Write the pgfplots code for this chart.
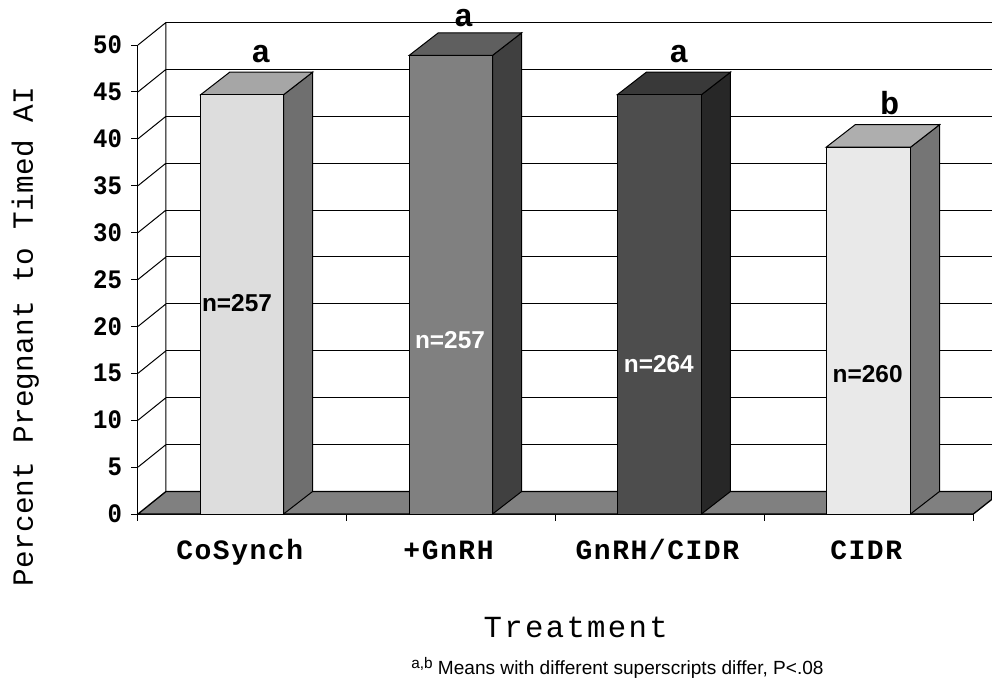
\documentclass[border=0pt]{standalone}
\usepackage{pgfplots}
\pgfplotsset{compat=1.18}
\usepackage{fontspec}
\setmainfont{Liberation Sans}
\newfontfamily\cour{Liberation Mono}
\newfontfamily\courcat[LetterSpace=5.5]{Liberation Mono}
\newfontfamily\courtick[FakeStretch=0.9]{Liberation Mono}
\newfontfamily\courx[LetterSpace=7.5]{Liberation Mono}
\newfontfamily\coury[LetterSpace=1]{Liberation Mono}
\definecolor{fa}{HTML}{DDDDDD}\definecolor{ta}{HTML}{A6A6A6}\definecolor{sa}{HTML}{6F6F6F}
\definecolor{fb}{HTML}{808080}\definecolor{tb}{HTML}{5F5F5F}\definecolor{sb}{HTML}{404040}
\definecolor{fc}{HTML}{4D4D4D}\definecolor{tc}{HTML}{393939}\definecolor{sc}{HTML}{272727}
\definecolor{fd}{HTML}{E9E9E9}\definecolor{td}{HTML}{AEAEAE}\definecolor{sd}{HTML}{757575}
\begin{document}
\begin{tikzpicture}
\path[use as bounding box] (-103.5pt,-129pt) rectangle (640.5pt,385.5pt);
\begin{axis}[
  scale only axis, width=626.5pt, height=351.75pt,
  xmin=0, xmax=4, ymin=0, ymax=50, clip=false,
  axis x line*=bottom, axis y line*=left,
  axis line style={-, line width=.75pt, black},
  tick style={line width=.75pt, black},
  tick align=outside, major tick length=5pt,
  xtick={0,1,2,3,4}, xticklabels={},
  extra x ticks={0.487,1.487,2.487,3.487},
  extra x tick labels={CoSynch,+GnRH,GnRH/CIDR,CIDR},
  extra x tick style={major tick length=0pt, tick style={draw=none}},
  xticklabel style={font=\courcat\bfseries\fontsize{21}{21}\selectfont, anchor=base, yshift=-34pt},
  ytick={0,5,...,50},
  yticklabel style={/pgf/number format/assume math mode=true, font=\courtick\bfseries\fontsize{20}{20}\selectfont, xshift=-3.5pt},
  xlabel={Treatment}, ylabel={Percent Pregnant to Timed AI},
  xlabel style={at={(axis description cs:0.524,-0.241)}, anchor=center, font=\courx\fontsize{23}{23}\selectfont},
  ylabel style={at={(axis description cs:-0.135,0.378)}, anchor=center, font=\coury\fontsize{22}{22}\selectfont},
  unbounded coords=jump,
]
% floor
\addplot[fill=fb, draw=black, line width=1pt] coordinates {(0,0)(0.134,2.4)(4.0885,2.4)(4.0885,1.56)(4,0)} --cycle;
% side wall lines and back wall
\addplot[black, line width=.75pt] coordinates {
 (0,5)(0.134,7.4)(nan,nan)(0,10)(0.134,12.4)(nan,nan)(0,15)(0.134,17.4)(nan,nan)(0,20)(0.134,22.4)(nan,nan)
 (0,25)(0.134,27.4)(nan,nan)(0,30)(0.134,32.4)(nan,nan)(0,35)(0.134,37.4)(nan,nan)(0,40)(0.134,42.4)(nan,nan)
 (0,45)(0.134,47.4)(nan,nan)(0,50)(0.134,52.4)(nan,nan)(0.134,2.4)(0.134,52.4)};
% gridlines
\addplot[black, line width=.75pt] coordinates {
 (0.134,7.4)(4.0885,7.4)(nan,nan)(0.134,12.4)(4.0885,12.4)(nan,nan)(0.134,17.4)(4.0885,17.4)(nan,nan)
 (0.134,22.4)(4.0885,22.4)(nan,nan)(0.134,27.4)(4.0885,27.4)(nan,nan)(0.134,32.4)(4.0885,32.4)(nan,nan)
 (0.134,37.4)(4.0885,37.4)(nan,nan)(0.134,42.4)(4.0885,42.4)(nan,nan)(0.134,47.4)(4.0885,47.4)(nan,nan)
 (0.134,52.4)(4.0885,52.4)};
% bar 1
\addplot[fill=sa, draw=black, line width=.75pt] coordinates {(0.697,0)(0.836,2.4)(0.836,47.1)(0.697,44.7)} --cycle;
\addplot[fill=ta, draw=black, line width=.75pt] coordinates {(0.300,44.7)(0.439,47.1)(0.836,47.1)(0.697,44.7)} --cycle;
\addplot[ybar, bar shift=0pt, bar width=0.398, fill=fa, draw=black, line width=.75pt] coordinates {(0.4985,44.7)};
% bar 2
\addplot[fill=sb, draw=black, line width=.75pt] coordinates {(1.698,0)(1.837,2.4)(1.837,51.3)(1.698,48.9)} --cycle;
\addplot[fill=tb, draw=black, line width=.75pt] coordinates {(1.299,48.9)(1.438,51.3)(1.837,51.3)(1.698,48.9)} --cycle;
\addplot[ybar, bar shift=0pt, bar width=0.399, fill=fb, draw=black, line width=.75pt] coordinates {(1.4985,48.9)};
% bar 3
\addplot[fill=sc, draw=black, line width=.75pt] coordinates {(2.698,0)(2.837,2.4)(2.837,47.1)(2.698,44.7)} --cycle;
\addplot[fill=tc, draw=black, line width=.75pt] coordinates {(2.295,44.7)(2.434,47.1)(2.837,47.1)(2.698,44.7)} --cycle;
\addplot[ybar, bar shift=0pt, bar width=0.403, fill=fc, draw=black, line width=.75pt] coordinates {(2.4965,44.7)};
% bar 4
\addplot[fill=sd, draw=black, line width=.75pt] coordinates {(3.699,0)(3.838,2.4)(3.838,41.5)(3.699,39.1)} --cycle;
\addplot[fill=td, draw=black, line width=.75pt] coordinates {(3.295,39.1)(3.434,41.5)(3.838,41.5)(3.699,39.1)} --cycle;
\addplot[ybar, bar shift=0pt, bar width=0.404, fill=fd, draw=black, line width=.75pt] coordinates {(3.497,39.1)};
% letters
\tikzset{sig/.style={font=\cour\bfseries\fontsize{24}{24}\selectfont, anchor=base, inner sep=0pt},
         nn/.style={font=\bfseries\fontsize{18.3}{18.3}\selectfont, anchor=center, inner sep=0pt}}
\node[sig] at (axis cs:0.589,48.1) {a};
\node[sig] at (axis cs:1.560,52.0) {a};
\node[sig] at (axis cs:2.590,48.1) {a};
\node[sig] at (axis cs:3.600,42.6) {b};
\node[nn] at (axis cs:0.474,22.5) {n=257};
\node[nn, text=white] at (axis cs:1.494,18.5) {n=257};
\node[nn, text=white] at (axis cs:2.494,16.0) {n=264};
\node[nn] at (axis cs:3.494,14.9) {n=260};
\node[font=\fontsize{14.3}{14.3}\selectfont, anchor=center, inner sep=0pt] at (rel axis cs:0.574,-0.328) {{\fontsize{11.5}{11.5}\selectfont\raisebox{.38em}{a,b}} Means with different superscripts differ, P<.08};
\end{axis}
\end{tikzpicture}
\end{document}
